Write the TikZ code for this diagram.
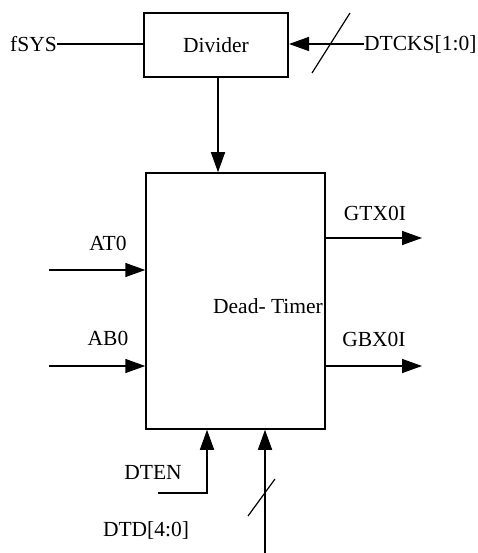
\documentclass[tikz,border=0pt]{standalone}
\usepackage{fontspec}
\setmainfont{Liberation Serif}
\usetikzlibrary{arrows.meta,positioning}

\begin{document}
\begin{tikzpicture}[
  x=1pt, y=-1pt,
  font=\fontsize{21.5}{25}\selectfont,
  block/.style={rectangle, draw, line width=2pt, inner sep=0pt},
  lbl/.style={inner sep=0pt},
  wire/.style={line width=1.5pt},
  arrow/.style={wire, -{Triangle[length=20pt,width=14pt]}},
  bus/.style={line width=1.2pt}
]
  \useasboundingbox (0,0) rectangle (478,553);

  % blocks
  \node[block, minimum width=144pt, minimum height=64pt] (div) at (216,45) {Divider};
  \node[block, line width=1.5pt, minimum width=179pt, minimum height=256pt] (dt) at (235.5,301) {};
  \node[lbl] (dtname) at (268,306) {Dead- Timer};

  % divider inputs
  \node[lbl, anchor=east] (fsys) at (57,44) {fSYS};
  \node[lbl, anchor=west] (dtcks) at (364,44) {DTCKS[1:0]};
  \draw[wire] (fsys.east) -- (fsys.east -| div.west);
  \draw[arrow] (dtcks.west) -- (dtcks.west -| div.east);
  \coordinate (s1a) at (312,73);
  \coordinate (s1b) at (350,13);
  \draw[bus] (s1a) -- (s1b);

  % divider to dead-timer
  \draw[arrow] (div.south -| 218,0) -- (218,0 |- dt.north);

  % inputs
  \coordinate (at0in) at (49,270);
  \coordinate (ab0in) at (49,366);
  \node[lbl] (at0) at (108,243) {AT0};
  \node[lbl] (ab0) at (108,338) {AB0};
  \draw[arrow] (at0in) -- (at0in -| dt.west);
  \draw[arrow] (ab0in) -- (ab0in -| dt.west);

  % outputs
  \coordinate (gtxout) at (422,238);
  \coordinate (gbxout) at (422,366);
  \node[lbl] (gtx) at (375,213) {GTX0I};
  \node[lbl] (gbx) at (374,339) {GBX0I};
  \draw[arrow] (gtxout -| dt.east) -- (gtxout);
  \draw[arrow] (gbxout -| dt.east) -- (gbxout);

  % bottom inputs
  \coordinate (dtenin) at (158,493);
  \coordinate (dtdin) at (265,553);
  \node[lbl] (dten) at (153,472) {DTEN};
  \node[lbl] (dtd) at (146,530) {DTD[4:0]};
  \draw[arrow] (dtenin) -| (207,0 |- dt.south);
  \draw[arrow] (dtdin) -- (dtdin |- dt.south);
  \coordinate (s2a) at (248,516);
  \coordinate (s2b) at (275,479);
  \draw[bus] (s2a) -- (s2b);
\end{tikzpicture}
\end{document}
